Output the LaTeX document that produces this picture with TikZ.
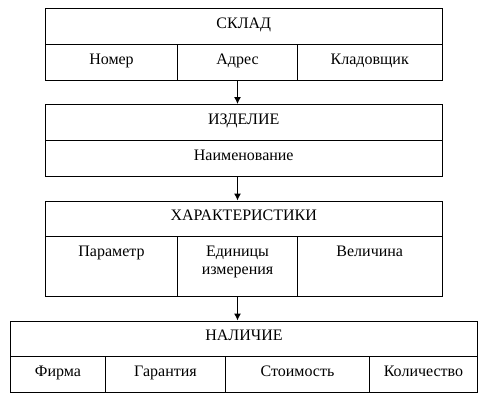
\documentclass[tikz,border=0pt]{standalone}
\usepackage{fontspec}
\setmainfont{Liberation Serif}
\usetikzlibrary{arrows.meta}
\begin{document}
\begin{tikzpicture}[x=1pt,y=-1pt,
  cell/.style={draw, line width=1pt, inner sep=0pt, anchor=north west},
  txt/.style={font=\fontsize{16}{17.6}\selectfont, inner sep=0pt, anchor=base},
  conn/.style={-{Latex[length=7pt,width=7pt]}, line width=1pt}]
\useasboundingbox (0,0) rectangle (490,404);
% box 1
\node[cell, minimum width=396.5pt, minimum height=36pt] (b1h) at (45,8) {};
\node[cell, minimum width=132pt, minimum height=36pt] (b1a) at (45,44) {};
\node[cell, minimum width=120pt, minimum height=36pt] (b1b) at (177,44) {};
\node[cell, minimum width=144.5pt, minimum height=36pt] (b1c) at (297,44) {};
% box 2
\node[cell, minimum width=396.5pt, minimum height=36pt] (b2h) at (45,104) {};
\node[cell, minimum width=396.5pt, minimum height=36pt] (b2a) at (45,140) {};
% box 3
\node[cell, minimum width=396.5pt, minimum height=35.5pt] (b3h) at (45,200.5) {};
\node[cell, minimum width=132pt, minimum height=60pt] (b3a) at (45,236) {};
\node[cell, minimum width=120pt, minimum height=60pt] (b3b) at (177,236) {};
\node[cell, minimum width=144.5pt, minimum height=60pt] (b3c) at (297,236) {};
% box 4
\node[cell, minimum width=467pt, minimum height=35.2pt] (b4h) at (10,320.5) {};
\node[cell, minimum width=95pt, minimum height=36.3pt] (b4a) at (10,355.7) {};
\node[cell, minimum width=120pt, minimum height=36.3pt] (b4b) at (105,355.7) {};
\node[cell, minimum width=144pt, minimum height=36.3pt] (b4c) at (225,355.7) {};
\node[cell, minimum width=108pt, minimum height=36.3pt] (b4d) at (369,355.7) {};
% texts
\path (b1h.north) ++(0,20.5) node[txt] (t1h) {СКЛАД};
\path (b1a.north) ++(0,21) node[txt] (t1a) {Номер};
\path (b1b.north) ++(0,21) node[txt] (t1b) {Адрес};
\path (b1c.north) ++(0,21) node[txt] (t1c) {Кладовщик};
\path (b2h.north) ++(0,20.5) node[txt] (t2h) {ИЗДЕЛИЕ};
\path (b2a.north) ++(0,20.5) node[txt] (t2a) {Наименование};
\path (b3h.north) ++(0,20) node[txt] (t3h) {ХАРАКТЕРИСТИКИ};
\path (b3a.north) ++(0,20.7) node[txt] (t3a) {Параметр};
\path (b3b.north) ++(0,10.2) node[txt, anchor=north, align=center] (t3b) {Единицы\\измерения};
\path (b3c.north) ++(0,20.7) node[txt] (t3c) {Величина};
\path (b4h.north) ++(0,19.5) node[txt] (t4h) {НАЛИЧИЕ};
\path (b4a.north) ++(0,21) node[txt] (t4a) {Фирма};
\path (b4b.north) ++(0,21) node[txt] (t4b) {Гарантия};
\path (b4c.north) ++(0,21) node[txt] (t4c) {Стоимость};
\path (b4d.north) ++(0,21) node[txt] (t4d) {Количество};
% connectors
\draw[conn] (b1b.south) -- (b1b.south |- b2h.north);
\draw[conn] (b1b.south |- b2a.south) -- (b1b.south |- b3h.north);
\draw[conn] (b3b.south) -- (b3b.south |- b4h.north);
\end{tikzpicture}
\end{document}
